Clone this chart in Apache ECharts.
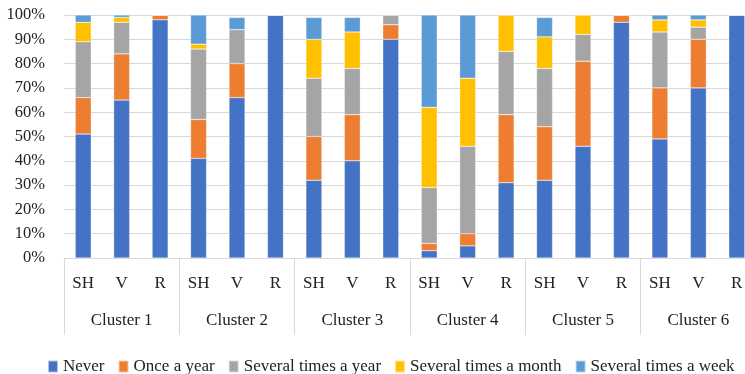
<!DOCTYPE html>
<html>
<head>
<meta charset="utf-8">
<script src="https://cdn.jsdelivr.net/npm/echarts@6/dist/echarts.min.js"></script>
<style>
  html, body { margin: 0; padding: 0; background: #fff; }
  #chart { width: 745px; height: 374px; }
</style>
</head>
<body>
<div id="chart"></div>
<script>
// Frequency shares (%) per cluster and group (SH, V, R)
const clusters = ['Cluster 1', 'Cluster 2', 'Cluster 3', 'Cluster 4', 'Cluster 5', 'Cluster 6'];
const groups = ['SH', 'V', 'R'];
const yTicks = [0, 10, 20, 30, 40, 50, 60, 70, 80, 90, 100];

const never         = [51, 65, 98, 41, 66, 100, 32, 40, 90,  3,  5, 31, 32, 46, 97, 49, 70, 100];
const onceYear      = [15, 19,  2, 16, 14,   0, 18, 19,  6,  3,  5, 28, 22, 35,  3, 21, 20,   0];
const severalYear   = [23, 13,  0, 29, 14,   0, 24, 19,  4, 23, 36, 26, 24, 11,  0, 23,  5,   0];
const severalMonth  = [ 8,  2,  0,  2,  0,   0, 16, 15,  0, 33, 28, 15, 13,  8,  0,  5,  3,   0];
const severalWeek   = [ 3,  1,  0, 12,  5,   0,  9,  6,  0, 38, 26,  0,  8,  0,  0,  2,  2,   0];

const seriesDefs = [
  { name: 'Never', data: never, color: '#4472C4' },
  { name: 'Once a year', data: onceYear, color: '#ED7D31' },
  { name: 'Several times a year', data: severalYear, color: '#A5A5A5' },
  { name: 'Several times a month', data: severalMonth, color: '#FFC000' },
  { name: 'Several times a week', data: severalWeek, color: '#5B9BD5' }
];

// one category per bar: each cluster repeats SH, V, R
const barCategories = [];
clusters.forEach(() => groups.forEach(g => barCategories.push(g)));

const FONT = '"Liberation Serif", "DejaVu Serif", serif';
const TEXT = '#222222';
const LINE = '#d9d9d9';

const chart = echarts.init(document.getElementById('chart'), null, { renderer: 'canvas' });

chart.setOption({
  animation: false,
  backgroundColor: '#fff',
  textStyle: { fontFamily: FONT },
  // the plot runs past the right edge of the canvas, so the last bar sits at the border
  grid: { left: 64, width: 692, top: 15, bottom: 116, containLabel: false, outerBoundsMode: 'none' },
  legend: {
    top: 353,
    left: 42,
    itemWidth: 10,
    itemHeight: 12,
    itemGap: 13,
    icon: 'rect',
    textStyle: { fontFamily: FONT, fontSize: 17, color: TEXT },
    data: seriesDefs.map(s => s.name)
  },
  xAxis: [
    {
      type: 'category',
      data: barCategories,
      position: 'bottom',
      axisLine: { show: true, lineStyle: { color: LINE, width: 1 } },
      axisTick: { show: false },
      axisLabel: { interval: 0, margin: 17, fontFamily: FONT, fontSize: 17, color: TEXT },
      splitLine: { show: false }
    },
    {
      type: 'category',
      data: clusters,
      position: 'bottom',
      axisLine: { show: false },
      axisTick: { show: true, inside: false, length: 77, lineStyle: { color: LINE, width: 1 } },
      axisLabel: { interval: 0, margin: 54, fontFamily: FONT, fontSize: 17, color: TEXT },
      splitLine: { show: false }
    }
  ],
  yAxis: {
    type: 'value',
    min: yTicks[0],
    max: yTicks[yTicks.length - 1],
    interval: yTicks[1] - yTicks[0],
    axisLine: { show: false },
    axisTick: { show: false },
    axisLabel: { margin: 19, fontFamily: FONT, fontSize: 16.5, color: TEXT, formatter: '{value}%' },
    splitLine: { show: true, lineStyle: { color: LINE, width: 1 } }
  },
  series: seriesDefs.map(s => ({
    name: s.name,
    type: 'bar',
    stack: 'total',
    xAxisIndex: 0,
    barWidth: 16,
    data: s.data,
    itemStyle: { color: s.color, borderColor: 'rgba(255,255,255,0.6)', borderWidth: 0.5 }
  }))
});
</script>
</body>
</html>
